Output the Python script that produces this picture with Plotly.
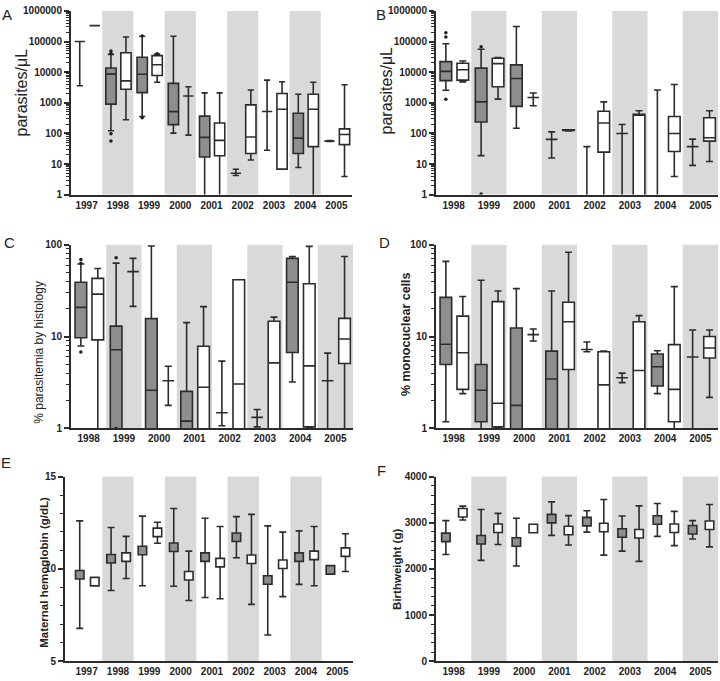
import plotly.graph_objects as go

# ---------------- data ----------------
YEARS_9 = ['1997', '1998', '1999', '2000', '2001', '2002', '2003', '2004', '2005']
YEARS_8 = ['1998', '1999', '2000', '2001', '2002', '2003', '2004', '2005']
LOW = 0.5  # whisker / box running off the bottom of a log axis

# Panel A  parasites/uL (gray group, white group)
A_gray_lo  = [3600, 122, 355, 102, LOW, 4.2, 28, 7.7, 54]
A_gray_q1  = [100000, 900, 2150, 193, 17, 5, 520, 22, 56]
A_gray_med = [100000, 8600, 8500, 515, 74, 5, 520, 70, 56]
A_gray_q3  = [100000, 13600, 30700, 4300, 365, 5, 520, 456, 56]
A_gray_hi  = [100000, 38000, 148000, 148000, 2100, 6.7, 5500, 1900, 58]
A_white_lo  = [330000, 280, 4700, 88, LOW, 13.5, 6.8, LOW, 3.9]
A_white_q1  = [330000, 2750, 7750, 1670, 18.6, 22, 6.8, 37, 43]
A_white_med = [330000, 5200, 17400, 1670, 59, 76, 615, 615, 92]
A_white_q3  = [330000, 43000, 34700, 1670, 218, 850, 2000, 1900, 140]
A_white_hi  = [330000, 141000, 39000, 3350, 2100, 2600, 4850, 4700, 3870]
A_out_gray_year = [1, 1, 1, 1, 2, 2]
A_out_gray_val  = [41000, 49000, 97, 56, 152000, 325]
A_out_white_year = [2]
A_out_white_val  = [40000]

# Panel B  parasites/uL
B_gray_lo  = [2550, 18.7, 147, 15.7, LOW, LOW, LOW, 9]
B_gray_q1  = [5300, 235, 760, 63.5, LOW, 99, LOW, 37]
B_gray_med = [10600, 1070, 6200, 63.5, LOW, 99, LOW, 37]
B_gray_q3  = [22100, 13500, 17300, 63.5, LOW, 99, LOW, 37]
B_gray_hi  = [85000, 56000, 308000, 112, 37, 196, 2600, 65]
B_white_lo  = [4800, 1310, 795, 120, LOW, LOW, 3.9, 12]
B_white_q1  = [5500, 3330, 1490, 124, 24.5, LOW, 25.7, 56]
B_white_med = [12000, 19000, 1490, 126, 218, 410, 99, 72]
B_white_q3  = [19600, 28300, 1490, 130, 530, 420, 355, 323]
B_white_hi  = [23200, 29700, 2090, 132, 1070, 550, 3960, 550]
B_out_gray_year = [0, 0, 0, 1, 1]
B_out_gray_val  = [192000, 140000, 1310, 67000, 1.05]

# Panel C  % parasitemia by histology
C_gray_lo  = [7.9, LOW, LOW, LOW, 1.07, 1.04, 3.2, LOW]
C_gray_q1  = [9.7, LOW, LOW, LOW, 1.48, 1.32, 6.7, 3.3]
C_gray_med = [20.8, 7.2, 2.6, 1.2, 1.48, 1.32, 39, 3.3]
C_gray_q3  = [39, 13, 15.7, 2.53, 1.48, 1.32, 71, 3.3]
C_gray_hi  = [61.6, 63, 97, 14.2, 5.4, 1.61, 74.5, 6.6]
C_white_lo  = [LOW, 21.3, 1.78, LOW, LOW, LOW, 1.0, LOW]
C_white_q1  = [9.2, 51, 3.3, LOW, LOW, LOW, 1.04, 5.1]
C_white_med = [29, 51, 3.3, 2.81, 3.05, 5.17, 4.8, 9.4]
C_white_q3  = [43, 51, 3.3, 7.85, 41.5, 14.7, 37.6, 15.8]
C_white_hi  = [55, 71, 4.75, 21.2, 41.5, 16.3, 96, 74.5]
C_out_gray_year = [0, 0, 0, 1, 1]
C_out_gray_val  = [63, 69, 6.8, 72, 1.0]

# Panel D  % monocuclear cells
D_gray_lo  = [1.18, LOW, LOW, LOW, 6.84, 3.15, 2.39, LOW]
D_gray_q1  = [4.96, 1.18, LOW, LOW, 7.24, 3.56, 2.9, 6.0]
D_gray_med = [8.25, 2.6, 1.78, 3.45, 7.24, 3.56, 4.69, 6.0]
D_gray_q3  = [26.7, 4.96, 12.4, 6.95, 7.24, 3.56, 6.45, 6.0]
D_gray_hi  = [65.8, 41, 33.3, 31.4, 8.73, 4.0, 7.0, 11.8]
D_white_lo  = [2.39, 1.0, 8.95, LOW, LOW, LOW, LOW, 2.18]
D_white_q1  = [2.66, 1.04, 10.5, 4.38, LOW, LOW, 1.18, 5.85]
D_white_med = [6.66, 1.88, 10.5, 14.5, 2.98, 4.28, 2.66, 7.5]
D_white_q3  = [16.7, 24, 10.5, 23.6, 6.84, 14.5, 8.17, 10]
D_white_hi  = [27.3, 31.4, 12.1, 82.7, 6.95, 16.9, 35, 11.8]

# Panel E  maternal hemoglobin (g/dL): mean, upper, lower
E_gray_mean = [9.68, 10.55, 11.0, 11.17, 10.64, 11.71, 9.4, 10.64, 9.95]
E_gray_hi   = [12.6, 12.24, 12.86, 13.27, 12.74, 12.83, 12.33, 12.06, 9.95]
E_gray_lo   = [6.78, 8.83, 9.09, 9.06, 8.45, 10.6, 6.42, 9.16, 9.95]
E_white_mean = [9.31, 10.64, 11.98, 9.63, 10.34, 10.52, 10.25, 10.73, 10.91]
E_white_hi   = [9.31, 11.76, 12.53, 10.96, 12.3, 12.95, 11.99, 12.3, 11.9]
E_white_lo   = [9.31, 9.48, 11.39, 8.29, 8.38, 8.08, 8.5, 9.09, 9.86]

# Panel F  birthweight (g)
F_gray_mean = [2683, 2633, 2583, 3089, 3025, 2776, 3060, 2847]
F_gray_hi   = [3046, 3288, 3096, 3452, 3260, 3146, 3416, 3046]
F_gray_lo   = [2313, 2185, 2064, 2726, 2797, 2384, 2704, 2648]
F_white_mean = [3217, 2882, 2875, 2833, 2897, 2761, 2882, 2946]
F_white_hi   = [3359, 3203, 2875, 3153, 3502, 3366, 3245, 3395]
F_white_lo   = [3060, 2527, 2875, 2519, 2299, 2164, 2505, 2477]

LOG_TICKS_6 = [1, 10, 100, 1000, 10000, 100000, 1000000]
LOG_TICKS_2 = [1, 10, 100]
E_TICKS = [5, 10, 15]
F_TICKS = [0, 1000, 2000, 3000, 4000]

# ---------------- style ----------------
FONT = "Arial, 'Liberation Sans', sans-serif"
LINE = '#2c2c2c'
GRAYFILL = '#8e8e8e'
BAND = '#d9d9d9'
OFF_G, OFF_W = -0.22, 0.26
BOXW = 0.33

fig = go.Figure()


def add_boxes(xa, ya, n, stats, fill):
    lo, q1, med, q3, hi = stats
    off = OFF_G if fill == GRAYFILL else OFF_W
    fig.add_trace(go.Box(
        x=[i + off for i in range(n)], lowerfence=lo, q1=q1, median=med, q3=q3,
        upperfence=hi, fillcolor=fill, line=dict(color=LINE, width=1.6),
        width=BOXW, whiskerwidth=0.6, boxpoints=False, xaxis=xa, yaxis=ya,
        showlegend=False, hoverinfo='skip'))


def add_outliers(xa, ya, years, vals, off):
    fig.add_trace(go.Scatter(
        x=[y + off for y in years], y=vals, mode='markers',
        marker=dict(color='#1e1e1e', size=3.5), xaxis=xa, yaxis=ya,
        showlegend=False, hoverinfo='skip'))


def add_means(xa, ya, mean, hi, lo, fill, off):
    fig.add_trace(go.Scatter(
        x=[i + off for i in range(len(mean))], y=mean, mode='markers',
        marker=dict(symbol='square', size=8.5, color=fill, line=dict(color=LINE, width=1.6)),
        error_y=dict(type='data', symmetric=False,
                     array=[h - m for h, m in zip(hi, mean)],
                     arrayminus=[m - l for m, l in zip(mean, lo)],
                     color=LINE, thickness=1.6, width=3.5),
        xaxis=xa, yaxis=ya, showlegend=False, hoverinfo='skip'))


# A
add_boxes('x', 'y', 9, (A_gray_lo, A_gray_q1, A_gray_med, A_gray_q3, A_gray_hi), GRAYFILL)
add_boxes('x', 'y', 9, (A_white_lo, A_white_q1, A_white_med, A_white_q3, A_white_hi), 'white')
add_outliers('x', 'y', A_out_gray_year, A_out_gray_val, OFF_G)
add_outliers('x', 'y', A_out_white_year, A_out_white_val, OFF_W)
# B
add_boxes('x2', 'y2', 8, (B_gray_lo, B_gray_q1, B_gray_med, B_gray_q3, B_gray_hi), GRAYFILL)
add_boxes('x2', 'y2', 8, (B_white_lo, B_white_q1, B_white_med, B_white_q3, B_white_hi), 'white')
add_outliers('x2', 'y2', B_out_gray_year, B_out_gray_val, OFF_G)
# C
add_boxes('x3', 'y3', 8, (C_gray_lo, C_gray_q1, C_gray_med, C_gray_q3, C_gray_hi), GRAYFILL)
add_boxes('x3', 'y3', 8, (C_white_lo, C_white_q1, C_white_med, C_white_q3, C_white_hi), 'white')
add_outliers('x3', 'y3', C_out_gray_year, C_out_gray_val, OFF_G)
# D
add_boxes('x4', 'y4', 8, (D_gray_lo, D_gray_q1, D_gray_med, D_gray_q3, D_gray_hi), GRAYFILL)
add_boxes('x4', 'y4', 8, (D_white_lo, D_white_q1, D_white_med, D_white_q3, D_white_hi), 'white')
# E
add_means('x5', 'y5', E_gray_mean, E_gray_hi, E_gray_lo, GRAYFILL, OFF_G)
add_means('x5', 'y5', E_white_mean, E_white_hi, E_white_lo, 'white', OFF_W)
# F
add_means('x6', 'y6', F_gray_mean, F_gray_hi, F_gray_lo, GRAYFILL, OFF_G)
add_means('x6', 'y6', F_white_mean, F_white_hi, F_white_lo, 'white', OFF_W)

W, H = 720, 681
def xd(a, b):
    return [a / W, b / W]
def yd(top, bottom):
    return [1 - bottom / H, 1 - top / H]

tickfont = dict(family=FONT, size=10, color='#222', weight='bold')

def xaxis(domain, labels, rng, anchor):
    return dict(domain=domain, range=rng, anchor=anchor, tickmode='array',
                tickvals=list(range(len(labels))), ticktext=labels, ticks='',
                showline=True, linecolor=LINE, linewidth=2, showgrid=False,
                zeroline=False, tickfont=tickfont, fixedrange=True)

def yaxis_log(domain, ticks, anchor):
    ndec = len(ticks) - 1
    minor = [k * 10 ** d for d in range(ndec) for k in range(2, 10)]
    return dict(domain=domain, type='log', range=[0, ndec], anchor=anchor,
                tickmode='array', tickvals=ticks, ticktext=[str(t) for t in ticks],
                ticks='outside', ticklen=5, tickwidth=1.6, tickcolor=LINE,
                minor=dict(tickmode='array', tickvals=minor, ticks='outside',
                           ticklen=3, tickwidth=1, tickcolor=LINE, showgrid=False),
                showline=True, linecolor=LINE, linewidth=2, showgrid=False,
                zeroline=False, tickfont=tickfont)

def yaxis_lin(domain, ticks, minor_dtick, anchor):
    return dict(domain=domain, range=[ticks[0], ticks[-1]], anchor=anchor,
                tickmode='array', tickvals=ticks, ticktext=[str(t) for t in ticks],
                ticks='outside', ticklen=5, tickwidth=1.6, tickcolor=LINE,
                minor=dict(dtick=minor_dtick, ticks='outside', ticklen=3, tickwidth=1,
                           tickcolor=LINE, showgrid=False),
                showline=True, linecolor=LINE, linewidth=2, showgrid=False,
                zeroline=False, tickfont=tickfont)

top_row = yd(5, 192)
mid_row = yd(243, 430)
bot_row = yd(479, 667)
right_x = xd(436, 718)

fig.update_layout(
    width=W, height=H, margin=dict(l=0, r=0, t=0, b=0),
    paper_bgcolor='white', plot_bgcolor='rgba(0,0,0,0)', boxmode='overlay',
    font=dict(family=FONT, color='#222'),
    xaxis=xaxis(xd(71, 352), YEARS_9, [-0.5, 8.5], 'y'),
    yaxis=yaxis_log(top_row, LOG_TICKS_6, 'x'),
    xaxis2=xaxis(right_x, YEARS_8, [-0.5, 7.5], 'y2'),
    yaxis2=yaxis_log(top_row, LOG_TICKS_6, 'x2'),
    xaxis3=xaxis(xd(71, 353), YEARS_8, [-0.5, 7.5], 'y3'),
    yaxis3=yaxis_log(mid_row, LOG_TICKS_2, 'x3'),
    xaxis4=xaxis(right_x, YEARS_8, [-0.5, 7.5], 'y4'),
    yaxis4=yaxis_log(mid_row, LOG_TICKS_2, 'x4'),
    xaxis5=xaxis(xd(65, 353), YEARS_9, [-0.69, 8.5], 'y5'),
    yaxis5=yaxis_lin(bot_row, E_TICKS, 1, 'x5'),
    xaxis6=xaxis(right_x, YEARS_8, [-0.5, 7.5], 'y6'),
    yaxis6=yaxis_lin(bot_row, F_TICKS, 200, 'x6'),
)

# shaded alternate-year bands
shapes = []
for xa, ya in [('x', 'y'), ('x2', 'y2'), ('x3', 'y3'), ('x4', 'y4'), ('x5', 'y5'), ('x6', 'y6')]:
    for i in (1, 3, 5, 7):
        shapes.append(dict(type='rect', xref=xa, yref=ya + ' domain', x0=i - 0.5, x1=i + 0.5,
                           y0=0, y1=1, fillcolor=BAND, line=dict(width=0), layer='below'))
fig.update_layout(shapes=shapes)

annotations = []
for letter, x, y in [('A', 7, 9), ('B', 381, 9), ('C', 9, 241), ('D', 384, 241),
                     ('E', 6, 465), ('F', 381, 473)]:
    annotations.append(dict(text=letter, x=x / W, y=1 - y / H, xref='paper', yref='paper',
                            showarrow=False, xanchor='center', yanchor='middle',
                            font=dict(family=FONT, size=15, color='#222')))
for title, x, y, size, bold in [('parasites/μL', 21, 88, 16, False),
                                ('parasites/μL', 386, 86, 16, False),
                                ('% parasitemia by histology', 39, 353, 12, False),
                                ('% monocuclear cells', 406, 334, 12.5, True),
                                ('Maternal hemoglobin (g/dL)', 44, 577, 11.5, True),
                                ('Birthweight (g)', 397, 574, 11.5, True)]:
    annotations.append(dict(text=title, x=x / W, y=1 - y / H, xref='paper', yref='paper',
                            showarrow=False, textangle=-90, xanchor='center', yanchor='middle',
                            font=dict(family=FONT, size=size, color='#222',
                                      weight='bold' if bold else 'normal')))
fig.update_layout(annotations=annotations)

fig.write_html("out.html", config={'displayModeBar': False},
               post_script="document.body.style.margin='0';"
                           "document.body.style.overflow='hidden';")
